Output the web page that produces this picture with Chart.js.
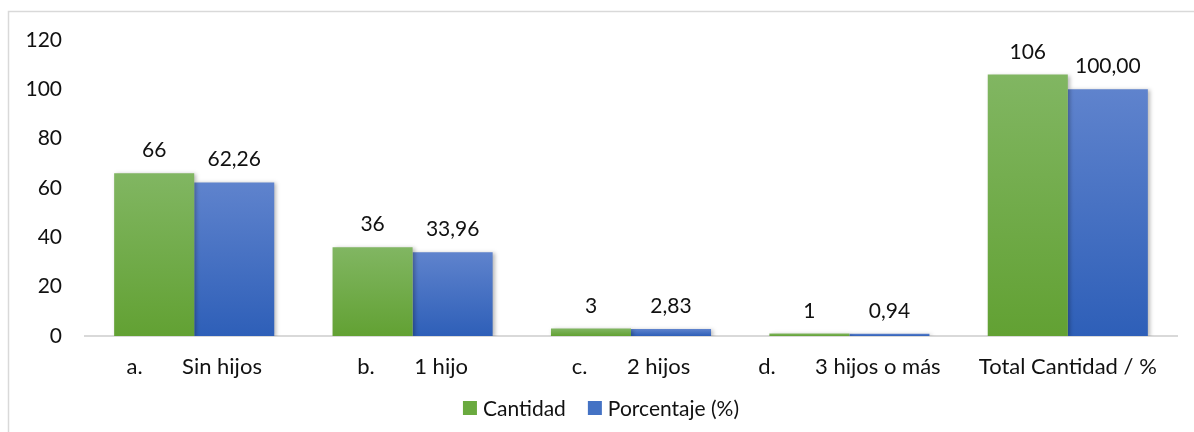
<!DOCTYPE html>
<html>
<head>
<meta charset="utf-8">
<script src="https://cdn.jsdelivr.net/npm/chart.js@4/dist/chart.umd.min.js"></script>
<style>
  html, body { margin: 0; padding: 0; background: #ffffff; }
  #wrap { width: 1194px; height: 432px; position: relative; }
</style>
</head>
<body>
<div id="wrap"><canvas id="chart" width="1194" height="432"></canvas></div>
<script>
// Number of children: count and share of respondents
const letters = ['a.', 'b.', 'c.', 'd.', ''];
const groups = ['Sin hijos', '1 hijo', '2 hijos', '3 hijos o más', 'Total Cantidad / %'];
const cantidad = [66, 36, 3, 1, 106];
const porcentaje = [62.26, 33.96, 2.83, 0.94, 100.00];
const yTicks = [0, 20, 40, 60, 80, 100, 120];

const seriesNames = ['Cantidad', 'Porcentaje (%)'];
const FONT = 'Lato, "Open Sans", sans-serif';
const GAP = '       ';
const categories = groups.map((g, i) => letters[i] ? letters[i] + GAP + g : g);

// vertical gradient per bar, lighter at the top
function barGradient(top, bottom) {
  return function (ctx) {
    const chart = ctx.chart;
    const y = chart.scales.y;
    if (!y || ctx.dataIndex === undefined) return bottom;
    const v = ctx.dataset.data[ctx.dataIndex];
    const yTop = y.getPixelForValue(v);
    const yBot = y.getPixelForValue(0);
    if (!isFinite(yTop) || !isFinite(yBot) || yBot - yTop < 1) return bottom;
    const g = chart.ctx.createLinearGradient(0, yTop, 0, yBot);
    g.addColorStop(0, top);
    g.addColorStop(1, bottom);
    return g;
  };
}

const frame = {
  id: 'frame',
  beforeDraw(chart) {
    const c = chart.ctx;
    c.save();
    c.strokeStyle = '#d9d9d9';
    c.lineWidth = 1.5;
    c.strokeRect(8.5, 11.5, 1200, 440);
    c.restore();
  }
};

const shadow = {
  id: 'shadow',
  beforeDatasetsDraw(chart) {
    const c = chart.ctx;
    c.save();
    c.shadowColor = 'rgba(0,0,0,0.28)';
    c.shadowBlur = 4;
    c.shadowOffsetX = 2;
    c.shadowOffsetY = 1;
  },
  afterDatasetsDraw(chart) {
    chart.ctx.restore();
  }
};

const valueLabels = {
  id: 'valueLabels',
  afterDatasetsDraw(chart) {
    const c = chart.ctx;
    c.save();
    c.font = '21px ' + FONT;
    c.fillStyle = '#111111';
    c.textAlign = 'center';
    c.textBaseline = 'alphabetic';
    chart.data.datasets.forEach((ds, di) => {
      chart.getDatasetMeta(di).data.forEach((bar, i) => {
        const v = ds.data[i];
        const txt = di === 1 ? v.toFixed(2).replace('.', ',') : String(v);
        c.fillText(txt, bar.x, bar.y - 16);
      });
    });
    c.restore();
  }
};

const legendBoxes = {
  id: 'legendBoxes',
  afterDraw(chart) {
    const c = chart.ctx;
    c.save();
    c.font = '21px ' + FONT;
    c.textBaseline = 'middle';
    c.fillStyle = '#111111';
    const colors = ['#6aaa3f', '#4472c4'];
    const box = 14, gapText = 6, gapItem = 22;
    const widths = seriesNames.map(n => box + gapText + c.measureText(n).width);
    const total = widths.reduce((a, b) => a + b, 0) + gapItem;
    let x = 601 - total / 2;
    const y = 408;
    seriesNames.forEach((n, i) => {
      c.fillStyle = colors[i];
      c.fillRect(x, y - 7, box, box);
      c.fillStyle = '#111111';
      c.fillText(n, x + box + gapText, y + 1);
      x += widths[i] + gapItem;
    });
    c.restore();
  }
};

new Chart(document.getElementById('chart'), {
  type: 'bar',
  data: {
    labels: categories,
    datasets: [
      {
        label: seriesNames[0],
        data: cantidad,
        backgroundColor: barGradient('#81b662', '#62a133'),
        borderWidth: 0
      },
      {
        label: seriesNames[1],
        data: porcentaje,
        backgroundColor: barGradient('#5f83cd', '#2e5fb8'),
        borderWidth: 0
      }
    ]
  },
  options: {
    responsive: false,
    animation: false,
    devicePixelRatio: 1,
    layout: { padding: { left: 0, right: 17, top: 40, bottom: 46 } },
    datasets: { bar: { categoryPercentage: 0.733, barPercentage: 1.0 } },
    plugins: {
      legend: { display: false },
      tooltip: { enabled: false }
    },
    scales: {
      x: {
        grid: { display: false, drawTicks: false },
        border: { display: true, color: '#d9d9d9', width: 2 },
        ticks: {
          color: '#111111',
          font: { family: FONT, size: 22 },
          padding: 18,
          maxRotation: 0,
          autoSkip: false
        },
        afterFit(s) { s.height = 50; }
      },
      y: {
        min: 0,
        max: 120,
        afterBuildTicks(s) { s.ticks = yTicks.map(v => ({ value: v })); },
        grid: { display: false, drawTicks: false },
        border: { display: false },
        ticks: {
          color: '#111111',
          font: { family: FONT, size: 21 },
          padding: 23
        },
        afterFit(s) { s.width = 85; }
      }
    }
  },
  plugins: [frame, shadow, valueLabels, legendBoxes]
});
</script>
</body>
</html>
